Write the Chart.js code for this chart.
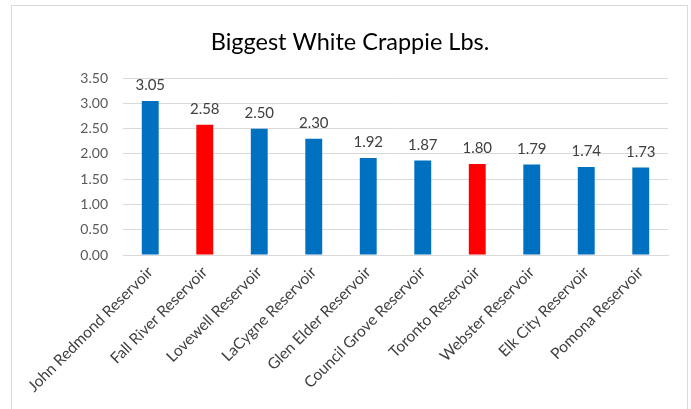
<!DOCTYPE html>
<html>
<head>
<meta charset="utf-8">
<script src="https://cdn.jsdelivr.net/npm/chart.js@4/dist/chart.umd.min.js"></script>
<style>
  html, body { margin: 0; padding: 0; background: #fff; }
  #wrap { position: relative; width: 691px; height: 409px; overflow: hidden; }
  #frame { position: absolute; left: 11px; top: 5px; width: 675px; height: 430px; border: 1px solid #d9d9d9; pointer-events: none; }
</style>
</head>
<body>
<div id="wrap">
  <canvas id="crappieChart" width="691" height="409"></canvas>
  <div id="frame"></div>
</div>
<script>
// data
const lakes = ['John Redmond Reservoir', 'Fall River Reservoir', 'Lovewell Reservoir', 'LaCygne Reservoir',
  'Glen Elder Reservoir', 'Council Grove Reservoir', 'Toronto Reservoir', 'Webster Reservoir',
  'Elk City Reservoir', 'Pomona Reservoir'];
const weights = [3.05, 2.58, 2.50, 2.30, 1.92, 1.87, 1.80, 1.79, 1.74, 1.73];
const highlighted = ['Fall River Reservoir', 'Toronto Reservoir'];

const blue = '#0070c0';
const red = '#ff0000';

// value labels over each bar (no datalabels plugin offline)
const barLabels = {
  id: 'barLabels',
  afterDatasetsDraw(chart) {
    const ctx = chart.ctx;
    const meta = chart.getDatasetMeta(0);
    ctx.save();
    ctx.font = '15px Lato';
    ctx.fillStyle = '#404040';
    ctx.textAlign = 'center';
    ctx.textBaseline = 'bottom';
    meta.data.forEach((bar, i) => {
      ctx.fillText(weights[i].toFixed(2), bar.x, bar.y - 8);
    });
    ctx.restore();
  }
};

new Chart(document.getElementById('crappieChart'), {
  type: 'bar',
  data: {
    labels: lakes,
    datasets: [{
      data: weights,
      backgroundColor: lakes.map(l => highlighted.includes(l) ? red : blue),
      barPercentage: 0.62,
      categoryPercentage: 0.5
    }]
  },
  options: {
    responsive: false,
    animation: false,
    layout: { padding: { left: 32, right: 23, top: 0, bottom: 0 } },
    plugins: {
      legend: { display: false },
      tooltip: { enabled: false },
      title: {
        display: true,
        text: 'Biggest White Crappie Lbs.',
        color: '#000',
        font: { family: 'Lato', size: 23.5, weight: 'normal' },
        padding: { top: 28, bottom: 22 }
      }
    },
    scales: {
      x: {
        grid: { display: false, drawTicks: false },
        border: { color: '#d9d9d9' },
        ticks: {
          color: '#404040',
          font: { family: 'Lato', size: 15.5 },
          minRotation: 45,
          maxRotation: 45,
          padding: 8,
          autoSkip: false
        },
        afterFit(scale) { scale.height = 154; }
      },
      y: {
        min: 0,
        max: 3.5,
        grid: { color: '#d9d9d9', drawTicks: false },
        border: { display: false },
        ticks: {
          stepSize: 0.5,
          color: '#595959',
          font: { family: 'Lato', size: 14 },
          padding: 15,
          callback: v => v.toFixed(2)
        },
        afterFit(scale) { scale.width = 91; }
      }
    }
  },
  plugins: [barLabels]
});
</script>
</body>
</html>
